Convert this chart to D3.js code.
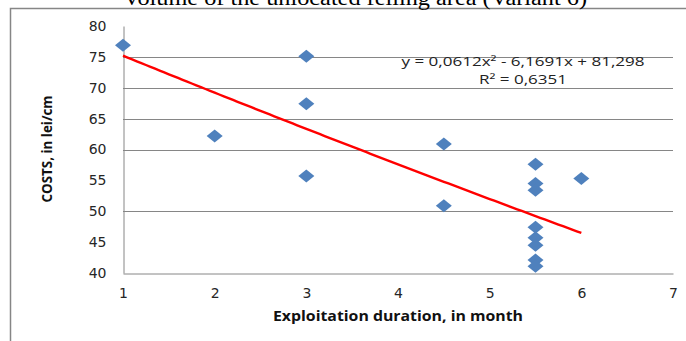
<!DOCTYPE html>
<html><head><meta charset="utf-8">
<script src="https://cdn.jsdelivr.net/npm/d3@7"></script>
<style>
html,body{margin:0;padding:0;background:#fff;overflow:hidden}
svg{display:block}
</style></head>
<body><svg id="c" width="686" height="341"></svg>
<script>
// ---- data ----
const months = [1, 2, 3, 3, 3, 4.5, 4.5, 5.5, 5.5, 5.5, 5.5, 5.5, 5.5, 5.5, 5.5, 6];
const costs  = [76.9, 62.2, 75.1, 67.4, 55.7, 60.9, 50.9, 57.6, 54.5, 53.4, 47.4, 45.7, 44.5, 42.1, 41.1, 55.3];
const xTicks = [1, 2, 3, 4, 5, 6, 7];
const yTicks = [40, 45, 50, 55, 60, 65, 70, 75, 80];
const gridValues = [50, 60, 65, 70, 75];
const trendCoef = [0.0612, -6.1691, 81.298]; // a, b, c
const trendRange = [1, 6];
const titleText = "Volume of the unlocated felling area (Variant 6)";
const xTitle = "Exploitation duration, in month";
const yTitle = "COSTS, in lei/cm";
const eqText = "y = 0,0612x² - 6,1691x + 81,298";
const r2Text = "R² = 0,6351";

// ---- drawing ----
const svg = d3.select("#c");
const x = d3.scaleLinear().domain([1, 7]).range([123, 673]);
const y = d3.scaleLinear().domain([40, 80]).range([273, 26]);
const grey = "#868686";

// frame
svg.append("path").attr("d", "M10.5,341 V8.5 H686").attr("fill", "none")
  .attr("stroke", grey).attr("stroke-width", 1.5);

// title (clipped at top, as in the reference)
svg.append("text").attr("x", 355).attr("y", 4.5).attr("text-anchor", "middle")
  .attr("font-family", "Liberation Serif, serif").attr("font-size", 20)
  .attr("textLength", 464).attr("lengthAdjust", "spacingAndGlyphs")
  .attr("fill", "#000").text(titleText);

// gridlines
svg.append("g").selectAll("line").data(gridValues).join("line")
  .attr("x1", x(1)).attr("x2", x(7))
  .attr("y1", d => Math.round(y(d)) + 0.5).attr("y2", d => Math.round(y(d)) + 0.5)
  .attr("stroke", grey).attr("stroke-width", 1);

// axes
const xAxis = svg.append("g").attr("transform", `translate(0,${Math.round(y(40)) + 0.5})`)
  .call(d3.axisBottom(x).tickValues(xTicks).tickSize(0).tickPadding(15).tickFormat(d3.format("d")));
const yAxis = svg.append("g").attr("transform", `translate(${Math.round(x(1)) + 0.5},0)`)
  .call(d3.axisLeft(y).tickValues(yTicks).tickSize(0).tickPadding(17).tickFormat(d3.format("d")));
[xAxis, yAxis].forEach(g => {
  g.select(".domain").attr("stroke", grey).attr("stroke-width", 1);
  g.selectAll("text").attr("font-family", "DejaVu Sans, sans-serif").attr("font-size", 14).attr("fill", "#262626");
});

// axis titles
svg.append("text").attr("x", 398).attr("y", 321).attr("text-anchor", "middle")
  .attr("font-family", "Open Sans, sans-serif").attr("font-weight", "bold").attr("font-size", 14)
  .attr("textLength", 250).attr("lengthAdjust", "spacingAndGlyphs").attr("fill", "#111").text(xTitle);
svg.append("text").attr("transform", "translate(52,149) rotate(-90)").attr("text-anchor", "middle")
  .attr("font-family", "Open Sans, sans-serif").attr("font-weight", "bold").attr("font-size", 14)
  .attr("textLength", 107).attr("lengthAdjust", "spacingAndGlyphs").attr("fill", "#111").text(yTitle);

// trendline
const [a, b, c] = trendCoef;
const tx = d3.range(trendRange[0], trendRange[1] + 0.0001, 0.05);
svg.append("path").datum(tx)
  .attr("d", d3.line().x(d => x(d)).y(d => y(a * d * d + b * d + c)))
  .attr("fill", "none").attr("stroke", "#ff0000").attr("stroke-width", 2.4);

// points (diamonds)
const hw = 8, hh = 6.5;
svg.append("g").selectAll("path").data(months.map((m, i) => [m, costs[i]])).join("path")
  .attr("transform", d => `translate(${x(d[0])},${y(d[1])})`)
  .attr("d", `M0,${-hh} L${hw},0 L0,${hh} L${-hw},0 Z`)
  .attr("fill", "#4f81bd");

// equation
svg.append("text").attr("x", 523).attr("y", 66).attr("text-anchor", "middle")
  .attr("font-family", "Open Sans, sans-serif").attr("font-size", 13)
  .attr("textLength", 243).attr("lengthAdjust", "spacingAndGlyphs").attr("fill", "#222").text(eqText);
svg.append("text").attr("x", 523).attr("y", 84).attr("text-anchor", "middle")
  .attr("font-family", "Open Sans, sans-serif").attr("font-size", 13)
  .attr("textLength", 88).attr("lengthAdjust", "spacingAndGlyphs").attr("fill", "#222").text(r2Text);
</script></body></html>
